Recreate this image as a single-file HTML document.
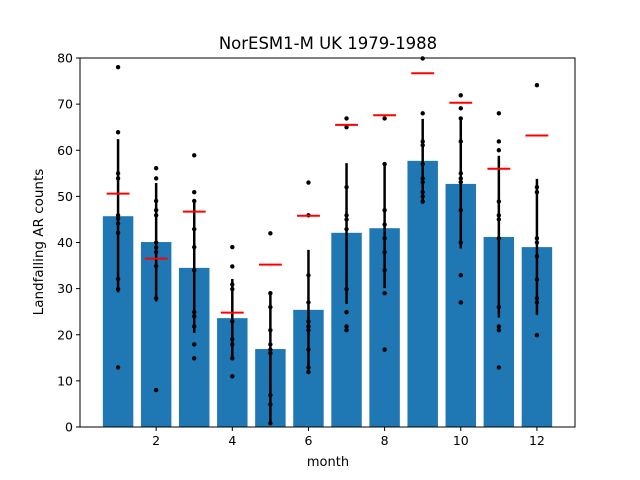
<!DOCTYPE html>
<html><head><meta charset="utf-8"><style>
body{margin:0;background:#fff;}
svg{display:block;font-family:"DejaVu Sans","Liberation Sans",sans-serif;}
</style></head><body>
<svg id="chart" width="640" height="480" viewBox="0 0 640 480">
<rect width="640" height="480" fill="#fff"/>
<text x="328" y="49" font-size="16.5" text-anchor="middle">NorESM1-M UK 1979-1988</text>
<g id="plot"></g>
<text x="328" y="466" font-size="13" text-anchor="middle">month</text>
<text transform="translate(43,242) rotate(-90)" font-size="13.5" text-anchor="middle">Landfalling AR counts</text>
</svg>
<script>
const months = [1,2,3,4,5,6,7,8,9,10,11,12];
const means = [45.7,40.1,34.5,23.6,16.9,25.4,42.1,43.1,57.7,52.7,41.2,39.0];
const errLow = [29.2,27.2,20.4,15.1,0.5,12.4,26.7,30.1,48.4,38.7,23.7,24.3];
const errHigh = [62.4,52.9,48.9,32.1,29.2,38.4,57.2,57.0,66.8,67.1,58.8,53.8];
const refLine = [50.6,36.5,46.7,24.8,35.2,45.8,65.5,67.6,76.7,70.3,56.0,63.2];
const points = [
 [78.0,63.9,55.0,53.9,45.9,45.2,44.1,42.1,32.1,29.9,12.9],
 [56.1,53.9,49.0,47.0,45.9,40.0,38.9,37.9,34.9,27.9,8.0],
 [58.9,50.9,49.0,42.9,39.0,34.0,24.9,24.0,21.8,17.9,14.9],
 [39.0,34.8,30.9,29.9,22.9,19.0,17.9,14.9,11.0],
 [42,29,26,21,17.9,16.8,16,6.9,4.9,0.8],
 [53.0,45.9,32.9,27.0,22.9,21.8,21.0,16.8,12.9,11.9],
 [66.9,65.0,52.0,45.9,45.0,42.9,29.9,24.9,21.8,21.0],
 [66.9,57.0,47.0,43.9,40.9,37.9,34.0,29.0,16.8],
 [79.9,68,61.9,61.1,57,53.9,53.1,50.9,50.0,48.9],
 [71.9,69.1,66.9,61.9,55,53.9,53.1,47,40,32.9,27],
 [68,61.9,60,48.9,45.9,45,40.9,26,21.8,21,12.9],
 [74.1,52,50.9,40.9,40,37,32,27.9,27,19.9]
];
const xTicks = [2,4,6,8,10,12];
const yTicks = [0,10,20,30,40,50,60,70,80];

const L=80,R=575,T=58,B=427;
const X0=0,X1=13,Y0=0,Y1=80;
const sx=v=>L+(v-X0)/(X1-X0)*(R-L);
const sy=v=>B-(v-Y0)/(Y1-Y0)*(B-T);
const NS="http://www.w3.org/2000/svg";
const g=document.getElementById('plot');
function mk(tag,attrs){const e=document.createElementNS(NS,tag);for(const k in attrs)e.setAttribute(k,attrs[k]);g.appendChild(e);return e;}

months.forEach((m,i)=>{
  const b=mk('rect',{x:sx(m-0.4),y:sy(means[i]),width:sx(m+0.4)-sx(m-0.4),height:sy(0)-sy(means[i]),fill:'#1f77b4'});
  
  
});
months.forEach((m,i)=>{
  const e=mk('line',{x1:sx(m),x2:sx(m),y1:sy(errLow[i]),y2:sy(errHigh[i]),stroke:'#000','stroke-width':2.5});
  
  
  points[i].forEach(v=>{
    const c=mk('circle',{cx:sx(m),cy:sy(v),r:2.2,fill:'#000'});
    
    
  });
  const r=mk('line',{x1:sx(m-0.3),x2:sx(m+0.3),y1:sy(refLine[i]),y2:sy(refLine[i]),stroke:'#ff0000','stroke-width':2});
  
  
});
const fr=mk('rect',{x:L,y:T,width:R-L,height:B-T,fill:'none',stroke:'#000','stroke-width':1});


xTicks.forEach(t=>{
  mk('line',{x1:sx(t),x2:sx(t),y1:B,y2:B+4,stroke:'#000'});
  const tx=mk('text',{x:sx(t),y:B+18,'font-size':12.5,'text-anchor':'middle'});
  tx.textContent=t;
  
  
});
yTicks.forEach(t=>{
  mk('line',{x1:L-4,x2:L,y1:sy(t),y2:sy(t),stroke:'#000'});
  const tx=mk('text',{x:L-7,y:sy(t)+4.5,'font-size':12.5,'text-anchor':'end'});
  tx.textContent=t;
  
  
});
</script>
</body></html>
